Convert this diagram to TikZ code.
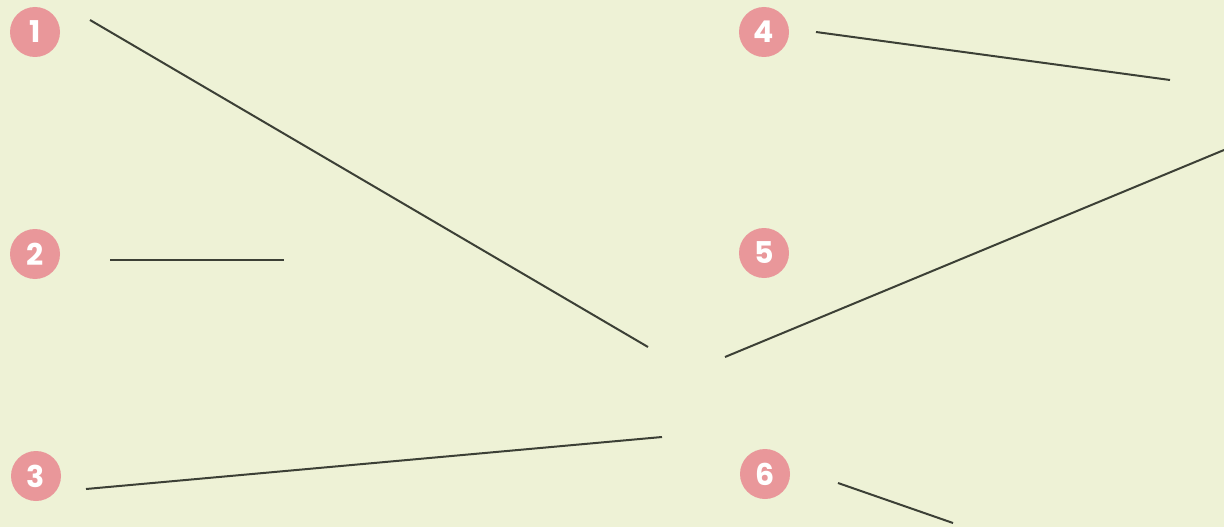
\documentclass[tikz,border=0pt]{standalone}
\usepackage{fontspec}
\setmainfont{Poppins}
\definecolor{bg}{HTML}{EEF2D6}
\definecolor{badge}{HTML}{E9979A}
\definecolor{ink}{HTML}{3C4036}
\begin{document}
\begin{tikzpicture}[x=1pt,y=-1pt,
  num/.style={circle,fill=badge,minimum size=50pt,inner sep=0pt,text=white,font=\bfseries\fontsize{30}{30}\selectfont},
  rule/.style={draw=ink,line width=2pt}]
\fill[bg] (0,0) rectangle (1224,527);
\useasboundingbox (0,0) rectangle (1224,527);
\node[num] (n1) at (35,32) {1};
\node[num] (n2) at (35,254) {2};
\node[num] (n3) at (36,476) {3};
\node[num] (n4) at (764,32) {4};
\node[num] (n5) at (764,253) {5};
\node[num] (n6) at (765,474) {6};
\coordinate (a1) at (90,20);   \coordinate (b1) at (648,347);
\coordinate (a2) at (110,260); \coordinate (b2) at (284,260);
\coordinate (a3) at (86,489);  \coordinate (b3) at (662,437);
\coordinate (a4) at (816,32);  \coordinate (b4) at (1170,80);
\coordinate (a5) at (725,357); \coordinate (b5) at (1224,150);
\coordinate (a6) at (838,483); \coordinate (b6) at (953,523);
\draw[rule] (a1) -- (b1);
\draw[rule] (a2) -- (b2);
\draw[rule] (a3) -- (b3);
\draw[rule] (a4) -- (b4);
\draw[rule] (a5) -- (b5);
\draw[rule] (a6) -- (b6);
\end{tikzpicture}
\end{document}
